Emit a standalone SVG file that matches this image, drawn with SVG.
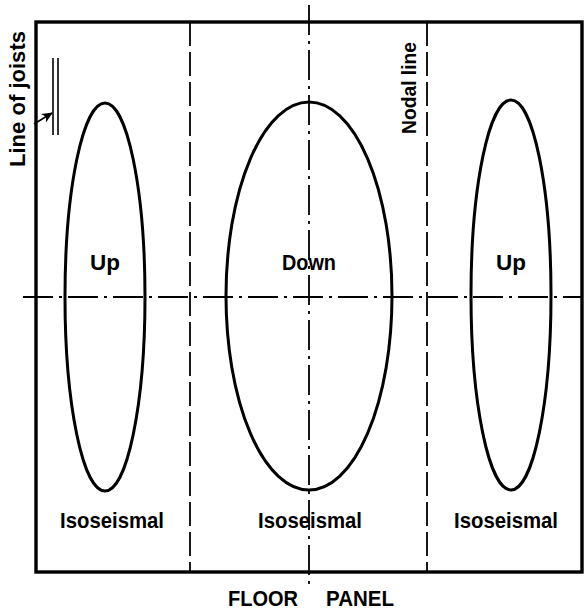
<svg xmlns="http://www.w3.org/2000/svg" width="585" height="612" viewBox="0 0 585 612">
<defs>
<style>
.frame{fill:none;stroke:#000;stroke-width:3.4}
.iso{fill:none;stroke:#000;stroke-width:3}
.dash{fill:none;stroke:#000;stroke-width:1.8;stroke-dasharray:24 6}
.dashdot{fill:none;stroke:#000;stroke-width:1.8;stroke-dasharray:30 6 3 6}
.joist{fill:none;stroke:#000;stroke-width:1.6}
.lbl{font-family:"Liberation Sans",Arial,sans-serif;font-weight:bold;font-size:22px;fill:#000}
</style>
<marker id="ah" markerWidth="11" markerHeight="10" refX="10" refY="5" orient="auto" markerUnits="userSpaceOnUse">
<path d="M0,0 L11,5 L0,10 L3,5 Z" fill="#000"/>
</marker>
</defs>
<rect width="585" height="612" fill="#fff"/>
<g id="frame">
<rect class="frame" x="36" y="22" width="546" height="550"/>
</g>
<g id="connectors">
<line class="dash" x1="190" y1="22" x2="190" y2="572"/>
<line class="dash" x1="427" y1="22" x2="427" y2="572"/>
<line class="dashdot" x1="309" y1="5" x2="309" y2="586"/>
<line class="dashdot" x1="23" y1="297" x2="583" y2="297"/>
<line class="joist" x1="53" y1="58" x2="53" y2="135"/>
<line class="joist" x1="58" y1="58" x2="58" y2="135"/>
<line class="joist" x1="34" y1="124" x2="52" y2="113" marker-end="url(#ah)"/>
</g>
<g id="left-isoseismal">
<ellipse class="iso" cx="105" cy="297" rx="40" ry="194"/>
<text class="lbl" x="105" y="270" text-anchor="middle" textLength="30" lengthAdjust="spacingAndGlyphs">Up</text>
<text class="lbl" x="112" y="528" text-anchor="middle" textLength="104" lengthAdjust="spacingAndGlyphs">Isoseismal</text>
</g>
<g id="center-isoseismal">
<ellipse class="iso" cx="309" cy="296" rx="83" ry="194"/>
<text class="lbl" x="309" y="270" text-anchor="middle" textLength="54" lengthAdjust="spacingAndGlyphs">Down</text>
<text class="lbl" x="310" y="528" text-anchor="middle" textLength="104" lengthAdjust="spacingAndGlyphs">Isoseismal</text>
</g>
<g id="right-isoseismal">
<ellipse class="iso" cx="511" cy="295" rx="40" ry="195"/>
<text class="lbl" x="511" y="270" text-anchor="middle" textLength="30" lengthAdjust="spacingAndGlyphs">Up</text>
<text class="lbl" x="506" y="528" text-anchor="middle" textLength="104" lengthAdjust="spacingAndGlyphs">Isoseismal</text>
</g>
<g id="labels">
<text class="lbl" transform="translate(25,167) rotate(-90)" textLength="136" lengthAdjust="spacingAndGlyphs">Line of joists</text>
<text class="lbl" transform="translate(416,134) rotate(-90)" style="font-size:20px" textLength="92" lengthAdjust="spacingAndGlyphs">Nodal line</text>
<text class="lbl" y="606"><tspan x="228" textLength="70" lengthAdjust="spacingAndGlyphs">FLOOR</tspan><tspan x="326" textLength="68" lengthAdjust="spacingAndGlyphs">PANEL</tspan></text>
</g>
</svg>
